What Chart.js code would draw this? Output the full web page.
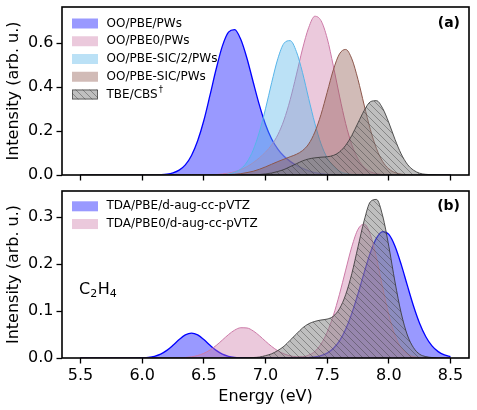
<!DOCTYPE html>
<html>
<head>
<meta charset="utf-8">
<script src="https://cdn.jsdelivr.net/npm/chart.js@4.4.1/dist/chart.umd.min.js"></script>
<style>
  html, body { margin: 0; padding: 0; background: #fff; }
  #wrap { position: relative; width: 477px; height: 410px; }
  canvas { position: absolute; left: 0; }
  #panelA { top: 0; }
  #panelB { top: 184px; }
</style>
</head>
<body>
<div id="wrap">
  <canvas id="panelA" width="477" height="184"></canvas>
  <canvas id="panelB" width="477" height="226"></canvas>
</div>
<script>
// energy grid (eV), shared by every spectrum
const energy = [
  5.50, 5.55, 5.60, 5.65, 5.70, 5.75, 5.80, 5.85, 5.90, 5.95,
  6.00, 6.05, 6.10, 6.15, 6.20, 6.25, 6.30, 6.35, 6.40, 6.45,
  6.50, 6.55, 6.60, 6.65, 6.70, 6.75, 6.80, 6.85, 6.90, 6.95,
  7.00, 7.05, 7.10, 7.15, 7.20, 7.25, 7.30, 7.35, 7.40, 7.45,
  7.50, 7.55, 7.60, 7.65, 7.70, 7.75, 7.80, 7.85, 7.90, 7.95,
  8.00, 8.05, 8.10, 8.15, 8.20, 8.25, 8.30, 8.35, 8.40, 8.45, 8.50
];

// panel (a)
const ooPbe = [
  0, 0, 0, 0, 0, 0, 0, 0, 0, 0,
  0, 0, 0.0004, 0.0014, 0.0038, 0.0096, 0.022, 0.046, 0.089, 0.156,
  0.248, 0.363, 0.482, 0.586, 0.650, 0.661, 0.616, 0.530, 0.423, 0.319,
  0.230, 0.164, 0.118, 0.085, 0.062, 0.044, 0.030, 0.019, 0.011, 0.006,
  0.003, 0.0014, 0.0006, 0, 0, 0, 0, 0, 0, 0,
  0, 0, 0, 0, 0, 0, 0, 0, 0, 0, 0
];
const ooPbe0 = [
  0, 0, 0, 0, 0, 0, 0, 0, 0, 0,
  0, 0, 0, 0, 0, 0, 0, 0, 0, 0,
  0.0004, 0.0009, 0.002, 0.0044, 0.0085, 0.015, 0.025, 0.038, 0.056, 0.078,
  0.104, 0.137, 0.183, 0.250, 0.342, 0.455, 0.573, 0.670, 0.722, 0.702,
  0.622, 0.496, 0.359, 0.234, 0.137, 0.073, 0.035, 0.015, 0.006, 0.002,
  0.0006, 0, 0, 0, 0, 0, 0, 0, 0, 0, 0
];
const ooSicHalf = [
  0, 0, 0, 0, 0, 0, 0, 0, 0, 0,
  0, 0, 0, 0, 0, 0, 0, 0, 0, 0,
  0, 0, 0.0005, 0.0016, 0.0046, 0.012, 0.028, 0.059, 0.113, 0.195,
  0.301, 0.420, 0.529, 0.599, 0.611, 0.562, 0.466, 0.348, 0.235, 0.142,
  0.078, 0.038, 0.017, 0.0068, 0.0025, 0.0008, 0, 0, 0, 0,
  0, 0, 0, 0, 0, 0, 0, 0, 0, 0, 0
];
const ooSic = [
  0, 0, 0, 0, 0, 0, 0, 0, 0, 0,
  0, 0, 0, 0, 0, 0, 0, 0, 0, 0,
  0, 0, 0.0004, 0.001, 0.002, 0.0035, 0.006, 0.011, 0.017, 0.026,
  0.037, 0.049, 0.061, 0.072, 0.083, 0.094, 0.111, 0.141, 0.195, 0.275,
  0.376, 0.478, 0.551, 0.571, 0.528, 0.434, 0.318, 0.207, 0.120, 0.061,
  0.028, 0.011, 0.004, 0.0013, 0.0004, 0, 0, 0, 0, 0, 0
];
// reference spectrum, drawn in both panels
const tbeCbs = [
  0, 0, 0, 0, 0, 0, 0, 0, 0, 0,
  0, 0, 0, 0, 0, 0, 0, 0, 0, 0,
  0, 0, 0, 0, 0, 0, 0, 0.0004, 0.001, 0.002,
  0.005, 0.009, 0.016, 0.025, 0.038, 0.051, 0.064, 0.073, 0.078, 0.081,
  0.083, 0.089, 0.105, 0.135, 0.180, 0.237, 0.293, 0.333, 0.338, 0.303,
  0.238, 0.162, 0.096, 0.049, 0.022, 0.008, 0.003, 0.001, 0.0002, 0, 0
];

// panel (b)
const tdaPbe = [
  0, 0, 0, 0, 0, 0, 0, 0, 0, 0.0001,
  0.0005, 0.0014, 0.0037, 0.0083, 0.0162, 0.0272, 0.0394, 0.0492, 0.053, 0.0492,
  0.0394, 0.0272, 0.0162, 0.0083, 0.0037, 0.0014, 0.0005, 0.0001, 0, 0,
  0, 0, 0, 0, 0, 0, 0.0003, 0.0009, 0.0021, 0.0049,
  0.0103, 0.0202, 0.0365, 0.0613, 0.0952, 0.1367, 0.182, 0.2241, 0.2554, 0.2696,
  0.2634, 0.2383, 0.1995, 0.1547, 0.111, 0.0737, 0.0454, 0.0258, 0.0136, 0.0066, 0.003
];
const tdaPbe0 = [
  0, 0, 0, 0, 0, 0, 0, 0, 0, 0,
  0, 0, 0, 0, 0, 0, 0.0005, 0.0011, 0.0025, 0.0053,
  0.0099, 0.017, 0.0267, 0.0382, 0.0499, 0.0594, 0.0645, 0.064, 0.0578, 0.0476,
  0.0358, 0.0246, 0.0154, 0.0088, 0.0047, 0.0028, 0.0028, 0.0061, 0.0139, 0.0296,
  0.0548, 0.0906, 0.136, 0.1873, 0.2374, 0.2743, 0.2853, 0.2631, 0.2128, 0.1499,
  0.0915, 0.0482, 0.022, 0.0087, 0.0029, 0.0009, 0.0002, 0, 0, 0, 0
];

const xTicks = [5.5, 6.0, 6.5, 7.0, 7.5, 8.0, 8.5];
const yTicksA = [0.0, 0.2, 0.4, 0.6];
const yTicksB = [0.0, 0.1, 0.2, 0.3];

const FONT = "'DejaVu Sans', sans-serif";
Chart.defaults.font.family = FONT;
Chart.defaults.color = '#000';

// gray fill with "\\" hatching
function hatchPattern() {
  const c = document.createElement('canvas');
  c.width = 7; c.height = 7;
  const g = c.getContext('2d');
  g.fillStyle = 'rgba(128,128,128,0.5)';
  g.fillRect(0, 0, 7, 7);
  g.strokeStyle = 'rgba(60,60,60,0.55)';
  g.lineWidth = 0.8;
  g.beginPath();
  g.moveTo(-1, -1); g.lineTo(8, 8);
  g.moveTo(-1, 6); g.lineTo(1, 8);
  g.moveTo(6, -1); g.lineTo(8, 1);
  g.stroke();
  return g.createPattern(c, 'repeat');
}
const hatch = hatchPattern();

function spectrum(label, ys, line, fill, width, extra) {
  return Object.assign({
    label: label,
    data: energy.map((e, i) => ({ x: e, y: ys[i] })),
    borderColor: line,
    backgroundColor: fill,
    borderWidth: width,
    fill: 'origin',
    pointRadius: 0,
    cubicInterpolationMode: 'monotone'
  }, extra || {});
}

const tickGrid = {
  drawOnChartArea: false, drawTicks: true,
  tickLength: 5.5, tickWidth: 1.3, tickColor: '#000'
};

function xScale(labels) {
  return {
    type: 'linear', min: 5.35, max: 8.65,
    afterBuildTicks: s => { s.ticks = xTicks.map(v => ({ value: v })); },
    afterFit: s => { s.height = labels ? 52 : 9; s.paddingLeft = 0; s.paddingRight = 0; },
    grid: tickGrid,
    border: { display: false },
    ticks: { display: labels, font: { size: 16 }, color: '#000', padding: 3, maxRotation: 0,
             callback: v => v.toFixed(1) },
    title: { display: labels, text: 'Energy (eV)', font: { size: 16 }, color: '#000',
             padding: { top: 0, bottom: 4 } }
  };
}

function yScale(max, ticks) {
  return {
    type: 'linear', min: 0, max: max,
    afterBuildTicks: s => { s.ticks = ticks.map(v => ({ value: v })); },
    afterFit: s => { s.width = 62; s.paddingTop = 0; s.paddingBottom = 0; },
    grid: tickGrid,
    border: { display: false },
    ticks: { font: { size: 16 }, color: '#000', padding: 3, callback: v => v.toFixed(1) },
    title: { display: true, text: 'Intensity (arb. u.)', font: { size: 16 }, color: '#000',
             padding: { top: 4, bottom: 0 } }
  };
}

// frame, legend, panel tag and molecule label
const deco = {
  id: 'deco',
  afterDatasetsDraw(chart, args, o) {
    const ctx = chart.ctx, a = chart.chartArea;
    ctx.save();
    ctx.strokeStyle = '#000';
    ctx.lineWidth = 1.6;
    ctx.strokeRect(a.left, a.top, a.right - a.left, a.bottom - a.top);

    ctx.textBaseline = 'middle';
    ctx.textAlign = 'left';
    let row = 0;
    chart.data.datasets.forEach(d => {
      if (d.noLegend) return;
      const y = o.legendY + row * 17.75;
      row++;
      ctx.fillStyle = d.backgroundColor;
      ctx.fillRect(72, y - 5, 26, 10);
      if (d.hatched) {
        ctx.strokeStyle = d.borderColor;
        ctx.lineWidth = 0.8;
        ctx.strokeRect(72.5, y - 4.5, 25, 9);
      }
      ctx.fillStyle = '#000';
      ctx.font = '12px ' + FONT;
      ctx.fillText(d.label, 106.5, y);
      if (d.sup) {
        const w = ctx.measureText(d.label).width;
        ctx.font = '8.5px ' + FONT;
        ctx.fillText(d.sup, 106.5 + w + 1, y - 4.5);
      }
    });

    ctx.fillStyle = '#000';
    ctx.font = 'bold 14px ' + FONT;
    ctx.textAlign = 'right';
    ctx.fillText(o.tag, 460, o.tagY);

    if (o.molecule) {
      ctx.textAlign = 'left';
      let x = 79;
      o.molecule.forEach(([t, sub]) => {
        ctx.font = (sub ? '11px ' : '16px ') + FONT;
        ctx.fillText(t, x, o.moleculeY + (sub ? 4 : 0));
        x += ctx.measureText(t).width + (sub ? 0.5 : 0);
      });
    }
    ctx.restore();
  }
};

const blueLine = '#0000ff', blueFill = 'rgba(0,0,255,0.4)';
const pinkLine = '#cc79a7', pinkFill = 'rgba(204,121,167,0.4)';
const skyLine = '#56b4e9', skyFill = 'rgba(86,180,233,0.4)';
const brownLine = '#8c564b', brownFill = 'rgba(140,86,75,0.4)';
const grayLine = 'rgba(55,55,55,0.85)';

new Chart(document.getElementById('panelA'), {
  type: 'line',
  data: {
    datasets: [
      spectrum('OO/PBE/PWs', ooPbe, blueLine, blueFill, 1.3, { order: 5 }),
      spectrum('OO/PBE0/PWs', ooPbe0, pinkLine, pinkFill, 1, { order: 4 }),
      spectrum('OO/PBE-SIC/2/PWs', ooSicHalf, skyLine, skyFill, 1, { order: 3 }),
      spectrum('OO/PBE-SIC/PWs', ooSic, brownLine, brownFill, 1, { order: 2 }),
      spectrum('TBE/CBS', tbeCbs, grayLine, hatch, 1, { order: 1, hatched: true, sup: '\u2020' })
    ]
  },
  options: {
    responsive: false,
    animation: false,
    layout: { padding: { top: 7, right: 8, left: 0, bottom: 0 } },
    scales: { x: xScale(false), y: yScale(0.764, yTicksA) },
    plugins: {
      legend: { display: false },
      tooltip: { enabled: false },
      deco: { legendY: 23.5, tag: '(a)', tagY: 23 }
    }
  },
  plugins: [deco]
});

new Chart(document.getElementById('panelB'), {
  type: 'line',
  data: {
    datasets: [
      spectrum('TDA/PBE/d-aug-cc-pVTZ', tdaPbe, blueLine, blueFill, 1.3, { order: 3 }),
      spectrum('TDA/PBE0/d-aug-cc-pVTZ', tdaPbe0, pinkLine, pinkFill, 1, { order: 2 }),
      spectrum('TBE/CBS', tbeCbs, grayLine, hatch, 1, { order: 1, hatched: true, noLegend: true })
    ]
  },
  options: {
    responsive: false,
    animation: false,
    layout: { padding: { top: 7, right: 8, left: 0, bottom: 0 } },
    scales: { x: xScale(true), y: yScale(0.356, yTicksB) },
    plugins: {
      legend: { display: false },
      tooltip: { enabled: false },
      deco: { legendY: 22.3, tag: '(b)', tagY: 22,
              molecule: [['C', false], ['2', true], ['H', false], ['4', true]], moleculeY: 106 }
    }
  },
  plugins: [deco]
});
</script>
</body>
</html>
